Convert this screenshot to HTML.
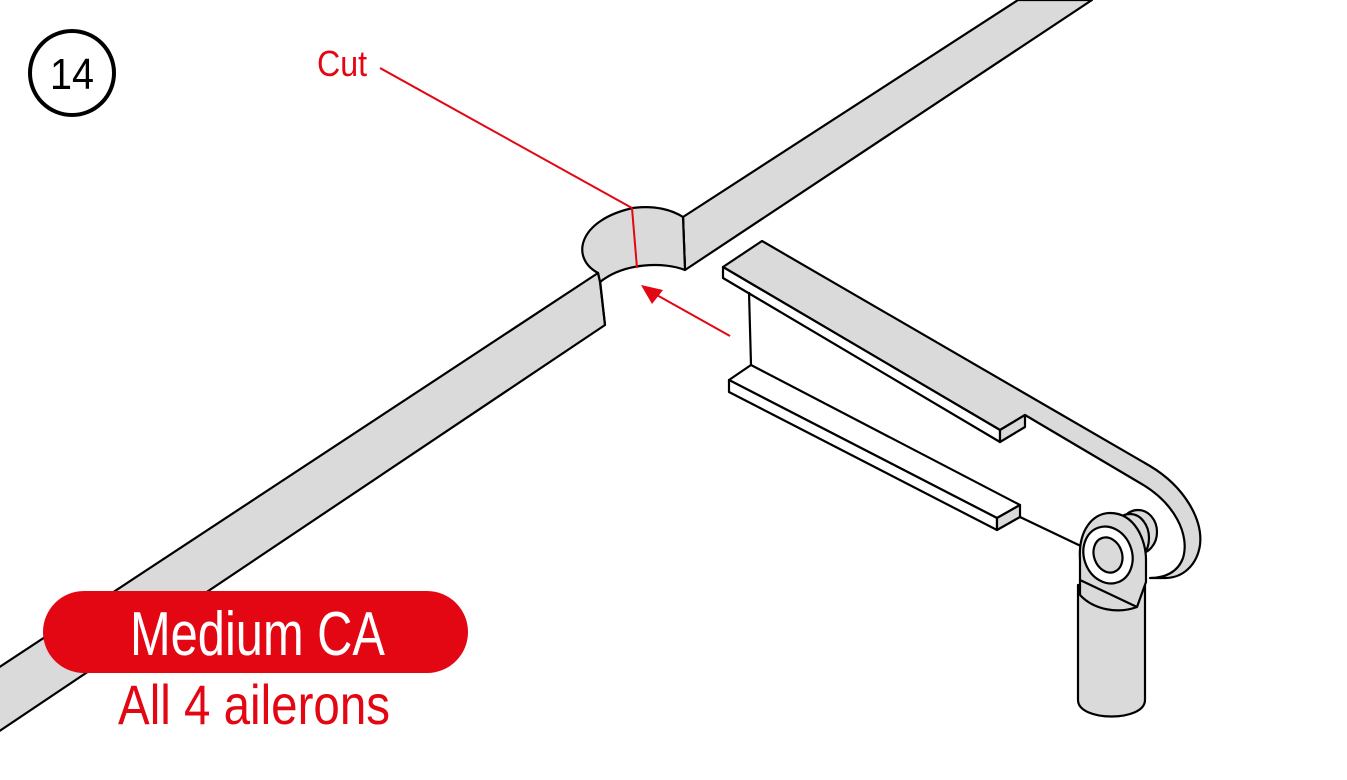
<!DOCTYPE html>
<html><head><meta charset="utf-8"><style>
html,body{margin:0;padding:0;background:#fff;}
svg{display:block;}
text{font-family:"Liberation Sans Narrow","Liberation Sans",sans-serif;}
</style></head><body>
<svg width="1347" height="780" viewBox="0 0 1347 780" xmlns="http://www.w3.org/2000/svg">
<g stroke="#000" stroke-width="2.2" stroke-linejoin="round" fill="#dadada">
<!-- right spar -->
<polygon points="683,217 1018,0 1092,0 685,270" />
<line x1="683" y1="217" x2="685" y2="270"/>
<!-- cutout -->
<path d="M598,273 C570,258 578,220 633,208 C655,205 672,210 683,217 L685,270 C665,262 625,262 600,282 Z"/>
<!-- left spar -->
<polygon points="598,273 -2,668 -2,732 605,325 600,282" />
<line x1="600" y1="280" x2="605" y2="325"/>

<!-- top flange + horn plate top face -->
<path d="M723,267 L762,241 L1150,466 C1185,487 1203,520 1200,545 C1197,565 1183,578 1165,578 L1150,578 C1165,578 1178,572 1183,558 C1190,535 1175,503 1140,483 L1025,415 L1000,430 Z"/>
<polygon points="723,267 1000,430 1000,442 723,278" fill="#fff"/>
<polygon points="1000,430 1025,415 1025,427 1000,442" />
<!-- web -->
<line x1="749" y1="292" x2="751" y2="365"/>
<!-- bottom flange -->
<polygon points="729,380 751,365 1020,505 997,518" fill="#fff"/>
<polygon points="729,380 997,518 997,530 729,392" fill="#fff"/>
<polygon points="997,518 1020,505 1020,517 997,530"/>
<line x1="1020" y1="517" x2="1085" y2="548"/>

<!-- ball link -->
<ellipse cx="1138" cy="532" rx="19" ry="22"/>
<ellipse cx="1130" cy="538" rx="19" ry="24"/>
<path d="M1078,585 L1078,700 C1078,722 1145,722 1145,700 L1145,585 Z"/>
<path d="M1080,560 C1078,530 1093,513 1110,513 C1135,513 1146,540 1146,560 L1146,582 L1137,607 C1118,614 1094,610 1080,595 Z"/>
<path d="M1080,580 L1137,607" fill="none"/>
<ellipse cx="1108" cy="555" rx="24" ry="29" transform="rotate(-20 1108 555)" fill="#fff"/>
<ellipse cx="1108" cy="555" rx="14" ry="18" transform="rotate(-20 1108 555)"/>
</g>

<!-- red annotations -->
<g stroke="#e30613" stroke-width="2" fill="none">
<line x1="380" y1="68" x2="632" y2="208"/>
<line x1="632" y1="208" x2="637" y2="268"/>
<line x1="730" y1="336" x2="655" y2="294"/>
</g>
<polygon points="641,285 663,290 652,304" fill="#e30613"/>
<text x="317" y="76" font-size="36" fill="#e30613" textLength="50" lengthAdjust="spacingAndGlyphs">Cut</text>

<!-- step number -->
<circle cx="72" cy="73" r="42" fill="none" stroke="#000" stroke-width="4"/>
<text x="72" y="89" font-size="44" text-anchor="middle" fill="#000" textLength="44" lengthAdjust="spacingAndGlyphs">14</text>

<!-- badge -->
<rect x="43" y="591" width="425" height="82" rx="41" fill="#e30613"/>
<text x="130" y="655" font-size="62" fill="#fff" textLength="255" lengthAdjust="spacingAndGlyphs">Medium CA</text>
<text x="118" y="724" font-size="56" fill="#e30613" textLength="272" lengthAdjust="spacingAndGlyphs">All 4 ailerons</text>
</svg>
</body></html>
